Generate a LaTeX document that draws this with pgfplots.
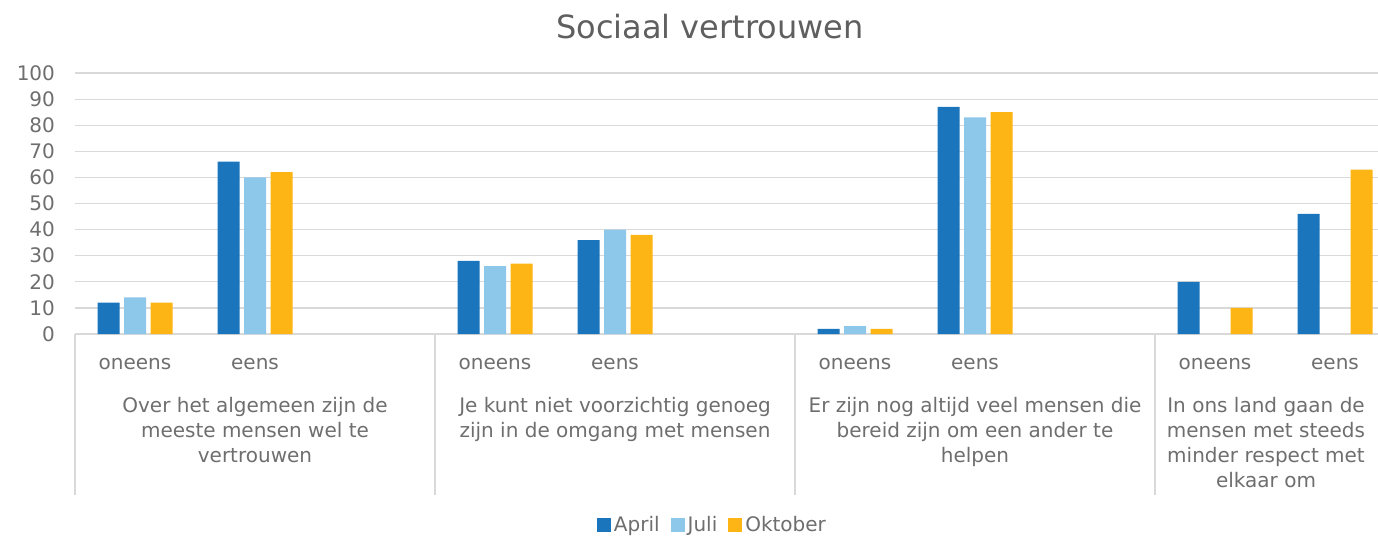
\documentclass[border=0pt]{standalone}
\usepackage{pgfplots}
\pgfplotsset{compat=1.18}
\usepackage{fontspec}
\setmainfont{DejaVu Sans}
\definecolor{april}{HTML}{1B75BC}
\definecolor{juli}{HTML}{8DC7EA}
\definecolor{okt}{HTML}{FDB515}
\definecolor{txt}{HTML}{6E6E6E}
\definecolor{ttl}{HTML}{5F5F5F}
\definecolor{gridc}{HTML}{D9D9D9}
\begin{document}
\begin{tikzpicture}
\begin{scope}
\clip (-37.5pt,-101.5pt) rectangle (651.5pt,167pt);
\begin{axis}[
  at={(0pt,0pt)}, anchor=south west,
  scale only axis, width=651.5pt, height=130.5pt,
  xmin=-0.5, xmax=10.358, ymin=0, ymax=100,
  ybar=2.25pt, bar width=11pt,
  clip=false,
  axis line style={draw=none},
  ytick={0,10,...,100},
  ymajorgrids, grid style={gridc, line width=0.6pt},
  major tick length=0pt,
  xtick={0,1,3,4,6,7,9,10},
  xticklabels={oneens,eens,oneens,eens,oneens,eens,oneens,eens},
  tick label style={font=\fontsize{10}{12}\selectfont, text=txt},
  /pgf/number format/assume math mode=true,
  yticklabel style={xshift=-6.5pt},
  xticklabel style={yshift=-8.5pt},
  legend style={at={(0.4896,-0.732)}, anchor=center, draw=none, legend columns=3,
    font=\fontsize{10}{12}\selectfont, text=txt, cells={anchor=west},
    nodes={inner xsep=1.5pt},
    /tikz/every even column/.append style={column sep=4pt}},
  legend image code/.code={\fill[#1] (0pt,-3.5pt) rectangle (7pt,3.5pt);},
]
\addplot[fill=april, draw=none] coordinates {(0,12)(1,66)(3,28)(4,36)(6,2)(7,87)(9,20)(10,46)};
\addplot[fill=juli, draw=none] coordinates {(0,14)(1,60)(3,26)(4,40)(6,3)(7,83)};
\addplot[fill=okt, draw=none] coordinates {(0,12)(1,62)(3,27)(4,38)(6,2)(7,85)(9,10)(10,63)};
\legend{April,Juli,Oktober}
\foreach \s in {-0.5,2.5,5.5,8.5} {
  \edef\temp{\noexpand\draw[gridc, line width=0.6pt] (axis cs:\s,0) -- ++(0pt,-80.5pt);}
  \temp
}
\node[anchor=north, align=center, font=\fontsize{10}{12.5}\selectfont, text=txt, inner sep=0pt]
  at ([yshift=-31.5pt]axis cs:1,0) {Over het algemeen zijn de\\meeste mensen wel te\\vertrouwen};
\node[anchor=north, align=center, font=\fontsize{10}{12.5}\selectfont, text=txt, inner sep=0pt]
  at ([yshift=-31.5pt]axis cs:4,0) {Je kunt niet voorzichtig genoeg\\zijn in de omgang met mensen};
\node[anchor=north, align=center, font=\fontsize{10}{12.5}\selectfont, text=txt, inner sep=0pt]
  at ([yshift=-31.5pt]axis cs:7,0) {Er zijn nog altijd veel mensen die\\bereid zijn om een ander te\\helpen};
\node[anchor=north, align=center, font=\fontsize{10}{12.5}\selectfont, text=txt, inner sep=0pt]
  at ([yshift=-31.5pt]axis cs:9.425,0) {In ons land gaan de\\mensen met steeds\\minder respect met\\elkaar om};
\end{axis}
\node[font=\fontsize{16}{19}\selectfont, text=ttl] at (317.5pt,153.5pt) {Sociaal vertrouwen};
\end{scope}
\pgfresetboundingbox
\useasboundingbox (-37.5pt,-101.5pt) rectangle (651.5pt,167pt);
\end{tikzpicture}
\end{document}
